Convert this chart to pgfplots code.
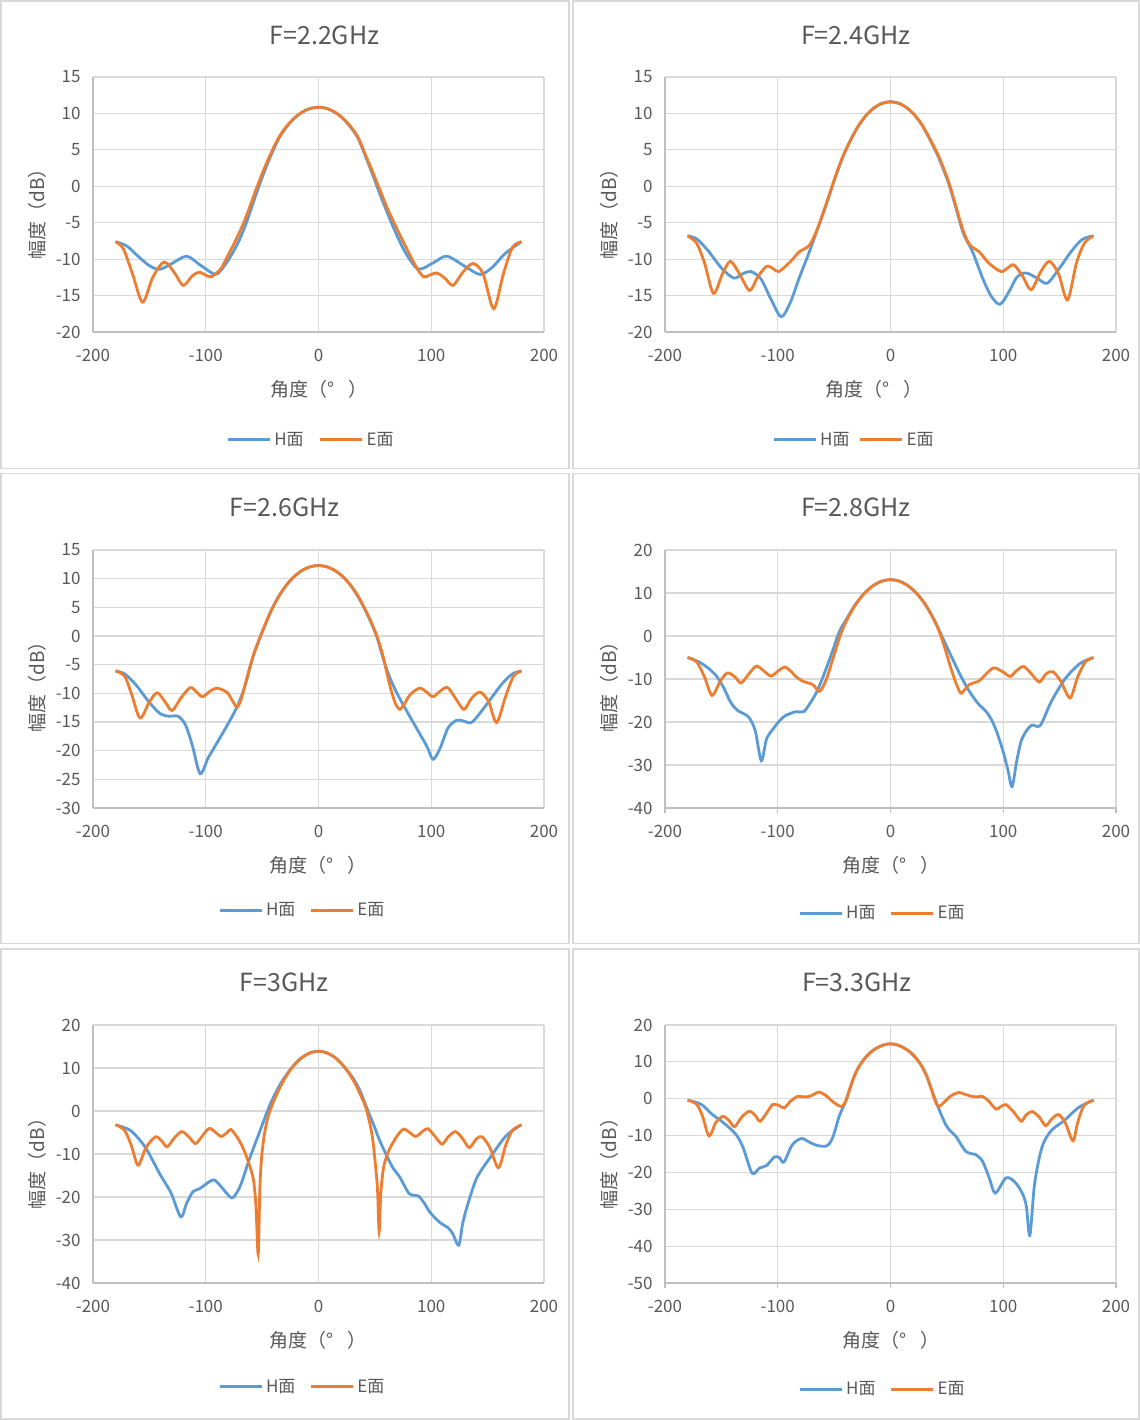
\documentclass[border=0pt]{standalone}
\usepackage{pgfplots}
\pgfplotsset{compat=1.18}
\usepackage{fontspec}
\setmainfont{Noto Sans CJK SC}
\definecolor{hblue}{HTML}{5B9BD5}
\definecolor{eorange}{HTML}{ED7D31}
\definecolor{gridgray}{HTML}{D9D9D9}
\definecolor{axisgray}{HTML}{BFBFBF}
\definecolor{txtgray}{HTML}{595959}
\definecolor{boxgray}{HTML}{D9D9D9}
\pgfplotsset{
  panel/.style={
    scale only axis, anchor=north west, width=225.5pt,
    xmin=-200, xmax=200, xtick={-200,-100,0,100,200},
    grid=major, major grid style={draw=gridgray, line width=0.6pt},
    axis x line*=bottom, axis y line*=left,
    axis line style={draw=axisgray, line width=0.7pt, -},
    major tick length=0pt,
    tick label style={font=\fontsize{8.5}{10}\selectfont, text=txtgray},
    /pgf/number format/assume math mode=true,
    xticklabel style={anchor=center, yshift=-11.5pt, inner sep=0pt},
    yticklabel style={anchor=east, xshift=-6pt, inner sep=0pt},
    title style={anchor=center, font=\fontsize{12.5}{15}\selectfont, text=txtgray},
    xlabel style={anchor=center, font=\fontsize{9.5}{11}\selectfont, text=txtgray},
    ylabel style={anchor=center, font=\fontsize{9.5}{11}\selectfont, text=txtgray},
    xlabel={角度（°\hspace{7pt}）}, ylabel={幅度（dB）},
    legend columns=2,
    legend image code/.code={\draw[##1, line width=1.5pt] (0pt,0pt) -- (21pt,0pt);},
    legend style={draw=none, fill=none, anchor=center, inner sep=0pt,
      font=\fontsize{8.5}{10}\selectfont, text=txtgray,
      nodes={inner xsep=1.5pt, inner ysep=1pt, anchor=west}},
    hline/.style={color=hblue, line width=1.4pt, smooth, no markers},
    eline/.style={color=eorange, line width=1.4pt, smooth, no markers},
  },
  tickpanel/.style={tick align=outside, major tick length=2.5pt,
    xtick style={draw=axisgray, line width=0.7pt}, ytick style={draw=none},
    xticklabel style={yshift=2.5pt}, yticklabel style={xshift=2.5pt}},
}
\begin{document}
\begin{tikzpicture}
\useasboundingbox (0pt,0pt) rectangle (570pt,-710pt);
\fill[white] (0pt,0pt) rectangle (570pt,-710pt);
\foreach \a/\b/\c/\d in {0.5/-0.5/284.5/-234.3, 286.5/-0.5/569.5/-234.3,
  0.5/-236.8/284.5/-471.8, 286.5/-236.8/569.5/-471.8,
  0.5/-474.5/284.5/-709.5, 286.5/-474.5/569.5/-709.5}
  \draw[boxgray, line width=0.8pt] (\a pt,\b pt) rectangle (\c pt,\d pt);

% ---------- F=2.2GHz ----------
\begin{axis}[panel, at={(46.5pt,-38.5pt)}, height=127.5pt,
  ymin=-20, ymax=15, ytick={-20,-15,...,15},
  title={F=2.2GHz}, title style={at={(0.513,1.118)}},
  xlabel style={at={(0.502,-0.2235)}}, ylabel style={at={(-0.123,0.48)}},
  legend style={at={(0.4845,-0.4235)}, /tikz/every even column/.append style={column sep=6pt}}]
\addplot[hline] coordinates {(-180,-7.6)(-170,-8.2)(-160,-9.6)(-150,-10.9)(-141,-11.4)(-130,-10.6)(-117,-9.6)(-105,-10.8)(-92,-12.1)(-87,-11.6)(-82,-10.6)(-76,-9.1)(-70,-7.3)(-64,-5)(-56,-1.4)(-49,1.6)(-42,4.3)(-35,6.6)(-28,8.2)(-21,9.4)(-14,10.2)(-7,10.7)(0,10.85)(7,10.7)(14,10.2)(21,9.4)(28,8.2)(35,6.6)(42,4)(49,1.2)(55,-1.3)(61,-3.6)(66,-5.5)(76,-8.8)(86,-11.1)(92,-11.3)(103,-10.4)(114,-9.6)(130,-11)(143.5,-12.1)(155,-11)(165,-9.3)(180,-7.6)};
\addlegendentry{H面}
\addplot[eline] coordinates {(-180,-7.6)(-173,-8.6)(-165,-12)(-156,-15.9)(-147,-12.5)(-137,-10.4)(-128,-11.8)(-120,-13.6)(-112,-12.3)(-106,-11.8)(-100,-12.2)(-95,-12.4)(-87,-11.4)(-82,-10)(-76,-8.2)(-70,-6.3)(-64,-4.1)(-56,-0.7)(-49,2.1)(-42,4.6)(-35,6.76)(-28,8.3)(-21,9.44)(-14,10.23)(-7,10.7)(0,10.85)(7,10.7)(14,10.23)(21,9.44)(28,8.3)(35,6.76)(42,4.2)(49,1.6)(55,-0.7)(61,-3)(67,-5)(75.5,-7.7)(86,-10.9)(93,-12.4)(98.5,-12.2)(104.8,-11.9)(112,-12.6)(119.3,-13.6)(128,-11.8)(137,-10.6)(146,-12)(155.4,-16.8)(164,-12)(172,-8.4)(180,-7.6)};
\addlegendentry{E面}
\end{axis}

% ---------- F=2.4GHz ----------
\begin{axis}[panel, at={(332.5pt,-38.5pt)}, height=127.5pt,
  ymin=-20, ymax=15, ytick={-20,-15,...,15},
  title={F=2.4GHz}, title style={at={(0.4235,1.118)}},
  xlabel style={at={(0.464,-0.2235)}}, ylabel style={at={(-0.1235,0.48)}},
  legend style={at={(0.420,-0.4235)}, /tikz/every even column/.append style={column sep=3pt}}]
\addplot[hline] coordinates {(-180,-6.8)(-172,-7.2)(-162,-8.8)(-150,-11.2)(-139,-12.6)(-131,-12)(-124,-11.7)(-115,-12.7)(-106,-15.5)(-97,-17.9)(-89,-16)(-81,-12.6)(-72,-9)(-65,-6)(-57,-2.5)(-49,1.2)(-42,4.1)(-35,6.45)(-28,8.4)(-21,9.84)(-14,10.83)(-7,11.41)(0,11.6)(7,11.41)(14,10.83)(21,9.84)(28,8.4)(35,6.4)(42,4.2)(47,2.3)(52,0.2)(57,-2.4)(61,-4.6)(65,-6.6)(72.8,-9)(81.7,-12.6)(89,-15)(97,-16.2)(105,-14.5)(112,-12.5)(120,-11.9)(130,-12.6)(139,-13.3)(150,-11.2)(160,-9)(170,-7.3)(180,-6.8)};
\addlegendentry{H面}
\addplot[eline] coordinates {(-180,-6.8)(-172,-7.8)(-165,-10.5)(-157,-14.7)(-149,-12)(-142,-10.3)(-134,-12)(-125,-14.3)(-118,-12.5)(-110,-11)(-104,-11.3)(-99,-11.7)(-88.5,-10.3)(-81,-9)(-72,-8.1)(-65,-5.9)(-57,-2.4)(-49,1.3)(-42,4.2)(-35,6.49)(-28,8.41)(-21,9.84)(-14,10.83)(-7,11.41)(0,11.6)(7,11.41)(14,10.83)(21,9.84)(28,8.41)(35,6.5)(42,4.4)(47,2.5)(52,0.4)(57,-2.2)(61,-4.4)(65,-6.3)(68.3,-7.5)(72,-8.3)(78.7,-9)(87.6,-10.6)(98,-11.7)(104,-11.2)(109.5,-10.8)(117,-12.3)(124.7,-14.2)(133,-11.8)(140.8,-10.3)(149,-12)(157,-15.6)(165,-10.5)(172,-7.8)(180,-6.8)};
\addlegendentry{E面}
\end{axis}

% ---------- F=2.6GHz ----------
\begin{axis}[panel, at={(46.5pt,-275pt)}, height=129pt,
  ymin=-30, ymax=15, ytick={-30,-25,...,15},
  title={F=2.6GHz}, title style={at={(0.425,1.12)}},
  xlabel style={at={(0.499,-0.221)}}, ylabel style={at={(-0.123,0.487)}},
  legend style={at={(0.465,-0.397)}, /tikz/every even column/.append style={column sep=5.5pt}}]
\addplot[hline] coordinates {(-180,-6.1)(-172,-6.6)(-162,-8.5)(-150,-11.6)(-140,-13.6)(-132,-14)(-124.5,-14)(-118,-15.5)(-112,-19)(-105,-24)(-98,-21.3)(-93.5,-19.8)(-81.6,-15.8)(-72.8,-12.6)(-65.5,-8.9)(-58,-3.6)(-54,-1.4)(-49,1.1)(-42,4.4)(-35,7)(-28,8.99)(-21,10.47)(-14,11.5)(-7,12.1)(0,12.3)(7,12.1)(14,11.5)(21,10.47)(28,8.95)(35,6.9)(42,4.3)(47,2.2)(51.8,-0.2)(56,-3)(60.7,-5.9)(66,-8.5)(72.6,-11.1)(84.4,-15.2)(96,-19.2)(101.6,-21.5)(108,-19.5)(115,-16)(122.6,-14.7)(128,-14.8)(135.5,-15.1)(143,-13.5)(153,-10.9)(163,-8.3)(172,-6.6)(180,-6.1)};
\addlegendentry{H面}
\addplot[eline] coordinates {(-180,-6.1)(-172,-7)(-166,-10)(-158.3,-14.3)(-150,-11.5)(-143,-9.9)(-136,-11.5)(-129.8,-13)(-122,-10.8)(-113.7,-9)(-108,-9.8)(-102.8,-10.6)(-96,-9.6)(-90.6,-9.1)(-85,-9.4)(-80.3,-10)(-76,-11.4)(-72.3,-12.4)(-69,-11.3)(-65.5,-8.8)(-62,-6.2)(-58,-3.5)(-54,-1.3)(-49,1.2)(-42,4.4)(-35,7)(-28,8.99)(-21,10.47)(-14,11.5)(-7,12.1)(0,12.3)(7,12.1)(14,11.5)(21,10.47)(28,8.99)(35,7)(42,4.4)(47,2.3)(51.8,0)(56,-2.6)(59.3,-5.3)(62,-7.6)(65.2,-10)(68.5,-11.9)(72,-12.8)(76,-11.9)(81.4,-10.2)(89.7,-9.1)(96,-9.8)(101.6,-10.6)(108,-9.6)(114.5,-9)(122,-11)(129,-12.8)(136,-10.8)(143.5,-9.8)(151,-11.5)(158,-15.1)(166,-10.5)(173,-7)(180,-6.1)};
\addlegendentry{E面}
\end{axis}

% ---------- F=2.8GHz ----------
\begin{axis}[panel, tickpanel, at={(332.5pt,-275pt)}, height=129pt,
  ymin=-40, ymax=20, ytick={-40,-30,...,20},
  title={F=2.8GHz}, title style={at={(0.4235,1.12)}},
  xlabel style={at={(0.501,-0.221)}}, ylabel style={at={(-0.1235,0.487)}},
  legend style={at={(0.483,-0.407)}, /tikz/every even column/.append style={column sep=5.5pt}}]
\addplot[hline] coordinates {(-180,-5)(-170,-6)(-163,-7.2)(-155,-9.1)(-148,-12)(-142,-15.3)(-135.7,-17.3)(-126,-18.8)(-120,-22)(-114.6,-29)(-110,-24)(-104.7,-21.8)(-98,-19.6)(-93,-18.5)(-84,-17.6)(-77,-17.6)(-71,-15.5)(-66,-13.3)(-61.5,-10.6)(-57.4,-7.8)(-53,-4.7)(-50,-2.4)(-47,-0.1)(-44,1.8)(-40,3.5)(-32,7)(-24,9.7)(-16,11.6)(-8,12.73)(0,13.1)(8,12.73)(16,11.6)(24,9.68)(32,6.9)(40,3.1)(45,0.3)(49,-2)(55,-5.3)(61,-8.6)(67,-11.6)(72.8,-14)(78,-15.8)(84.6,-17.5)(89,-19.2)(93.5,-21.8)(99.4,-26.4)(104,-31)(107.8,-35)(112,-29)(116.6,-23.9)(124.7,-20.8)(132.8,-20.8)(142.5,-15.3)(155,-9.9)(168,-6.4)(180,-5)};
\addlegendentry{H面}
\addplot[eline] coordinates {(-180,-5)(-172,-6)(-165,-9.5)(-158.3,-13.8)(-151,-10.5)(-144.7,-8.6)(-138,-9.5)(-132.4,-10.9)(-125,-8.6)(-118.8,-7)(-112,-8.2)(-105.9,-9.3)(-99,-8)(-93.6,-7.2)(-88,-8.3)(-84,-9.4)(-78,-10.5)(-69,-11.3)(-63.3,-12.9)(-59.5,-11.6)(-56,-9.4)(-50,-4.4)(-45,-0.2)(-40,3.03)(-32,6.87)(-24,9.68)(-16,11.6)(-8,12.73)(0,13.1)(8,12.73)(16,11.6)(24,9.68)(32,6.87)(40,3.03)(44.7,0)(49,-3.5)(53,-7)(58,-10.9)(62.4,-13.3)(66,-12.4)(69.8,-11.3)(78.7,-10.4)(86,-8.5)(92,-7.4)(100,-8.4)(106.2,-9.4)(112,-8)(118.2,-7.1)(125,-8.8)(132,-10.7)(138,-8.8)(144,-8.3)(151,-10.5)(159.3,-14.4)(166,-9.5)(173,-6)(180,-5)};
\addlegendentry{E面}
\end{axis}

% ---------- F=3GHz ----------
\begin{axis}[panel, at={(46.5pt,-512.5pt)}, height=129pt,
  ymin=-40, ymax=20, ytick={-40,-30,...,20},
  title={F=3GHz}, title style={at={(0.4235,1.12)}},
  xlabel style={at={(0.499,-0.221)}}, ylabel style={at={(-0.123,0.481)}},
  legend style={at={(0.465,-0.403)}, /tikz/every even column/.append style={column sep=5.5pt}}]
\addplot[hline] coordinates {(-180,-3.2)(-166.4,-4.6)(-153.5,-8.5)(-140.6,-14.7)(-130.9,-19)(-122.2,-24.6)(-117,-21.5)(-111.5,-18.8)(-105.7,-18.1)(-101.9,-17.4)(-93,-16)(-85.7,-17.8)(-77.3,-20.2)(-72.5,-19)(-68.3,-16.7)(-60.9,-10.9)(-52,-4.7)(-43,1.5)(-34.2,6.1)(-28,8.6)(-22,10.6)(-16,12.2)(-8,13.46)(0,13.9)(8,13.46)(16,12.15)(24,9.9)(31,7.5)(37,4.6)(43,0.6)(48.9,-3.2)(54.5,-7)(60.7,-10.5)(66,-13.2)(72.6,-15.6)(80,-19.1)(85,-19.6)(88.9,-19.8)(94,-21.5)(99.3,-23.7)(108,-26)(114.7,-27.1)(119,-28.5)(124.4,-31.2)(128,-26)(132.4,-21.7)(140.5,-15.5)(153.4,-10.4)(166.3,-5.8)(180,-3.2)};
\addlegendentry{H面}
\addplot[eline] coordinates {(-180,-3.2)(-172,-4.5)(-166,-8)(-160,-12.6)(-153,-8.5)(-144.5,-6)(-139,-7)(-134.2,-8.3)(-128,-6.3)(-121.3,-4.8)(-115,-6)(-109.3,-7.6)(-105.7,-6.7)(-97.4,-4.1)(-92,-4.8)(-86.4,-5.9)(-81,-5)(-77.5,-4.3)(-70,-7)(-64,-10.5)(-58,-15.6)(-55.5,-22)(-53.5,-33.3)(-52,-18)(-50.5,-11)(-48,-5.4)(-45,-1.6)(-42,0.8)(-38,3.3)(-32,6.6)(-24,9.9)(-16,12.15)(-8,13.46)(0,13.9)(8,13.46)(16,12.15)(24,9.9)(32,6.6)(38,3.3)(42,0.8)(45.8,-3.2)(48.3,-7)(50.2,-11.7)(52.3,-18)(53.8,-27.9)(55.3,-19)(57.6,-13.3)(60.5,-10.5)(63.5,-8.6)(69.5,-5.9)(76,-4.2)(85.8,-5.9)(92,-4.8)(97,-4.1)(103,-5.8)(109.6,-7.7)(115,-6)(121.6,-4.8)(128,-6.5)(133.8,-8.5)(140,-6.5)(145,-6)(152,-8.5)(159.6,-13.2)(166,-8)(172,-4.5)(180,-3.2)};
\addlegendentry{E面}
\end{axis}

% ---------- F=3.3GHz ----------
\begin{axis}[panel, tickpanel, at={(332.5pt,-512.5pt)}, height=129pt,
  ymin=-50, ymax=20, ytick={-50,-40,...,20},
  title={F=3.3GHz}, title style={at={(0.4257,1.12)}},
  xlabel style={at={(0.501,-0.221)}}, ylabel style={at={(-0.1235,0.481)}},
  legend style={at={(0.483,-0.411)}, /tikz/every even column/.append style={column sep=5.5pt}}]
\addplot[hline] coordinates {(-180,-0.4)(-168,-1.5)(-158.3,-4.2)(-148.6,-6.4)(-137.3,-9.6)(-130.8,-13.2)(-122.7,-20.2)(-116.2,-18.8)(-109.8,-18.1)(-103,-15.8)(-98.5,-16)(-94.5,-17.2)(-87.1,-12.5)(-79,-10.8)(-72,-11.8)(-64.8,-12.7)(-57.4,-12.9)(-54.5,-12.3)(-51.5,-10.7)(-48.5,-7.9)(-45.6,-4.8)(-42.5,-2.6)(-39.6,-0.6)(-36,2.7)(-32,6.2)(-28,8.7)(-24,10.5)(-18,12.5)(-12,13.8)(-6,14.6)(0,14.9)(6,14.6)(12,13.8)(18,12.5)(24,10.5)(28,8.7)(32,6.2)(35,3.7)(38,1.2)(43.2,-3)(49.1,-7.1)(53.5,-8.9)(58,-10.2)(66.9,-14.3)(75.7,-15.2)(81.7,-17)(87.6,-21.5)(92.9,-25.6)(102.4,-21.5)(110,-22.5)(116.5,-25.4)(120.4,-29)(123.6,-37.1)(127.8,-23.1)(134.3,-13.2)(142.4,-8.7)(153.8,-6)(166.7,-2.4)(180,-0.4)};
\addlegendentry{H面}
\addplot[eline] coordinates {(-180,-0.4)(-172,-1.5)(-167,-4.5)(-160.9,-10.1)(-155,-6.5)(-148.6,-4.8)(-143,-6)(-138.3,-7.6)(-132,-5)(-125.3,-3.4)(-120,-4.5)(-115.6,-6.1)(-109,-3.5)(-104.7,-1.6)(-99,-1.8)(-94.4,-2.5)(-88,-0.5)(-82.5,0.6)(-77,0.5)(-72.2,0.6)(-68,1.2)(-63.3,1.8)(-57,0.8)(-51.5,-0.7)(-47.5,-1.6)(-44,-2.1)(-41.5,-1.6)(-39,-0.1)(-36,2.8)(-32,6.2)(-28,8.7)(-24,10.5)(-18,12.5)(-12,13.8)(-6,14.6)(0,14.9)(6,14.6)(12,13.8)(18,12.5)(24,10.5)(28,8.7)(32,6.2)(36,2.8)(39,-0.1)(42.3,-2.1)(46,-1.4)(52,0.4)(56,1.2)(61,1.7)(66,1.2)(72.8,0.6)(77,0.5)(81.7,0.6)(87,-0.6)(93.5,-2.8)(98,-2.1)(102.4,-1.6)(109,-3.5)(116,-6.1)(120,-4.5)(125.7,-3.5)(132,-5)(137.6,-7.3)(143,-5.5)(148.9,-4.3)(155,-6.5)(161.8,-11.4)(166,-6.5)(171.5,-1.9)(180,-0.4)};
\addlegendentry{E面}
\end{axis}
\end{tikzpicture}
\end{document}
